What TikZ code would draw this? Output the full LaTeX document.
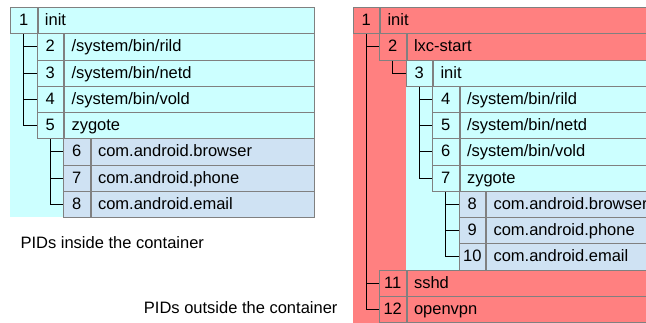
\documentclass[tikz,border=0pt]{standalone}
\usepackage{fontspec}
\setmainfont{Liberation Sans}
\usepackage{tikz}
\usetikzlibrary{positioning}

\definecolor{hostred}{HTML}{FF8080}
\definecolor{guestcyan}{HTML}{CCFFFF}
\definecolor{appblue}{HTML}{CFE2F3}
\definecolor{boxgray}{HTML}{808080}

\begin{document}
\begin{tikzpicture}[x=1pt,y=-1pt,node distance=0pt,
    every node/.style={font=\fontsize{16.5}{18}\selectfont,text height=12pt,text depth=2pt},
    pidbox/.style={draw=boxgray,line width=1pt,fill=#1,minimum width=26.5pt,minimum height=26.25pt,inner sep=0pt,anchor=north west},
    cmdbox/.style 2 args={draw=boxgray,line width=1pt,fill=#1,minimum height=26.25pt,inner xsep=7pt,inner ysep=0pt,text width=#2,align=left},
    tree/.style={draw=black,line width=1pt}]
    \useasboundingbox (0,0) rectangle (646,322);
    % backgrounds
    \fill[guestcyan] (10,7) rectangle (313,217);
    \fill[hostred] (352.5,7) rectangle (647,323);
    \fill[guestcyan] (405.5,59.5) rectangle (647,269.5);
    % inside the container
    \node[pidbox=guestcyan] (l1) at (10,7) {1};
    \node[cmdbox={guestcyan}{262.5pt}, right = of l1] (l1c) {init};
    \node[pidbox=guestcyan] (l2) at (36.5,33.25) {2};
    \node[cmdbox={guestcyan}{236pt}, right = of l2] (l2c) {/system/bin/rild};
    \node[pidbox=guestcyan] (l3) at (36.5,59.5) {3};
    \node[cmdbox={guestcyan}{236pt}, right = of l3] (l3c) {/system/bin/netd};
    \node[pidbox=guestcyan] (l4) at (36.5,85.75) {4};
    \node[cmdbox={guestcyan}{236pt}, right = of l4] (l4c) {/system/bin/vold};
    \node[pidbox=guestcyan] (l5) at (36.5,112) {5};
    \node[cmdbox={guestcyan}{236pt}, right = of l5] (l5c) {zygote};
    \node[pidbox=appblue] (l6) at (63,138.25) {6};
    \node[cmdbox={appblue}{209.5pt}, right = of l6] (l6c) {com.android.browser};
    \node[pidbox=appblue] (l7) at (63,164.5) {7};
    \node[cmdbox={appblue}{209.5pt}, right = of l7] (l7c) {com.android.phone};
    \node[pidbox=appblue] (l8) at (63,190.75) {8};
    \node[cmdbox={appblue}{209.5pt}, right = of l8] (l8c) {com.android.email};
    \node[anchor=west] (inlabel) at (17,243) {PIDs inside the container};
    % outside the container
    \node[pidbox=hostred] (r1) at (352.5,7) {1};
    \node[cmdbox={hostred}{254pt}, right = of r1] (r1c) {init};
    \node[pidbox=hostred] (r2) at (379,33.25) {2};
    \node[cmdbox={hostred}{227.5pt}, right = of r2] (r2c) {lxc-start};
    \node[pidbox=guestcyan] (r3) at (405.5,59.5) {3};
    \node[cmdbox={guestcyan}{201pt}, right = of r3] (r3c) {init};
    \node[pidbox=guestcyan] (r4) at (432,85.75) {4};
    \node[cmdbox={guestcyan}{174.5pt}, right = of r4] (r4c) {/system/bin/rild};
    \node[pidbox=guestcyan] (r5) at (432,112) {5};
    \node[cmdbox={guestcyan}{174.5pt}, right = of r5] (r5c) {/system/bin/netd};
    \node[pidbox=guestcyan] (r6) at (432,138.25) {6};
    \node[cmdbox={guestcyan}{174.5pt}, right = of r6] (r6c) {/system/bin/vold};
    \node[pidbox=guestcyan] (r7) at (432,164.5) {7};
    \node[cmdbox={guestcyan}{174.5pt}, right = of r7] (r7c) {zygote};
    \node[pidbox=appblue] (r8) at (458.5,190.75) {8};
    \node[cmdbox={appblue}{148pt}, right = of r8] (r8c) {com.android.browser};
    \node[pidbox=appblue] (r9) at (458.5,217) {9};
    \node[cmdbox={appblue}{148pt}, right = of r9] (r9c) {com.android.phone};
    \node[pidbox=appblue] (r10) at (458.5,243.25) {10};
    \node[cmdbox={appblue}{148pt}, right = of r10] (r10c) {com.android.email};
    \node[pidbox=hostred] (r11) at (379,269.5) {11};
    \node[cmdbox={hostred}{227.5pt}, right = of r11] (r11c) {sshd};
    \node[pidbox=hostred] (r12) at (379,295.75) {12};
    \node[cmdbox={hostred}{227.5pt}, right = of r12] (r12c) {openvpn};
    \node[anchor=east] (outlabel) at (341,308) {PIDs outside the container};
    % process tree
    \path[tree]
    (l1.south) |- (l2.west)
    (l1.south) |- (l3.west)
    (l1.south) |- (l4.west)
    (l1.south) |- (l5.west)
    (l5.south) |- (l6.west)
    (l5.south) |- (l7.west)
    (l5.south) |- (l8.west)
    (r1.south) |- (r2.west)
    (r1.south) |- (r11.west)
    (r1.south) |- (r12.west)
    (r2.south) |- (r3.west)
    (r3.south) |- (r4.west)
    (r3.south) |- (r5.west)
    (r3.south) |- (r6.west)
    (r3.south) |- (r7.west)
    (r7.south) |- (r8.west)
    (r7.south) |- (r9.west)
    (r7.south) |- (r10.west)
    ;
\end{tikzpicture}
\end{document}
